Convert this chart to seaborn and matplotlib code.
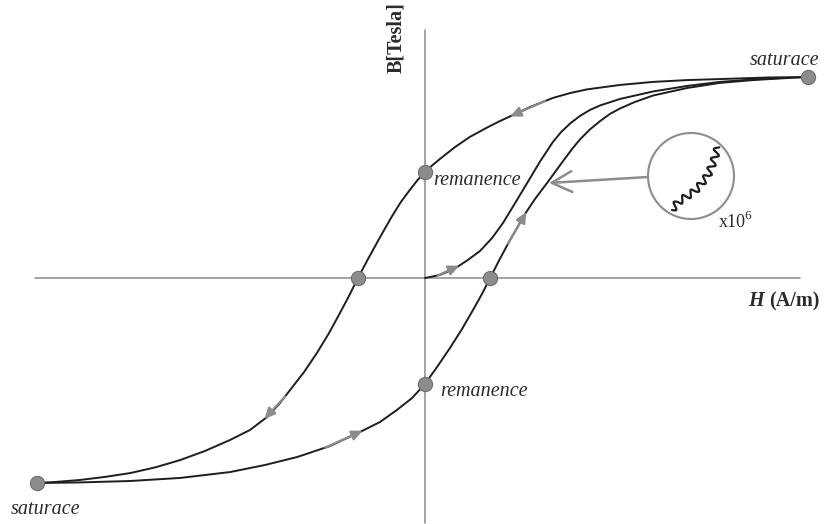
import numpy as np
import pandas as pd
import matplotlib
matplotlib.use("Agg")
import matplotlib.pyplot as plt
import matplotlib.transforms as mtransforms
from matplotlib.patches import Circle
import seaborn as sns

# Major loop, descending branch (from +saturation down to -saturation)
H_down = [0.982, 0.885, 0.756, 0.672, 0.585, 0.500, 0.415, 0.372, 0.328, 0.269,
          0.226, 0.192, 0.159, 0.115, 0.077, 0.038, 0.018, 0.0, -0.018, -0.038,
          -0.062, -0.085, -0.115, -0.144, -0.172, -0.195, -0.218, -0.246, -0.277,
          -0.310, -0.346, -0.374, -0.405, -0.449, -0.500, -0.564, -0.628, -0.692,
          -0.756, -0.821, -0.885, -0.949, -0.995]
B_down = [0.990, 0.988, 0.980, 0.975, 0.966, 0.951, 0.929, 0.911, 0.887, 0.842,
          0.803, 0.773, 0.741, 0.695, 0.645, 0.586, 0.554, 0.522, 0.485, 0.436,
          0.374, 0.303, 0.202, 0.101, 0.0, -0.089, -0.172, -0.271, -0.369,
          -0.463, -0.552, -0.621, -0.685, -0.749, -0.798, -0.852, -0.897, -0.933,
          -0.961, -0.980, -0.995, -1.005, -1.010]

# Major loop, ascending branch (from -saturation up to +saturation)
H_up = [-0.995, -0.885, -0.756, -0.628, -0.500, -0.410, -0.328, -0.244, -0.167,
        -0.115, -0.072, -0.033, 0.0, 0.031, 0.064, 0.095, 0.123, 0.146, 0.167,
        0.192, 0.218, 0.236, 0.251, 0.282, 0.313, 0.354, 0.377, 0.397, 0.423,
        0.449, 0.474, 0.500, 0.538, 0.585, 0.672, 0.756, 0.841, 0.910, 0.982]
B_up = [-1.010, -1.007, -1.000, -0.985, -0.956, -0.921, -0.882, -0.828, -0.759,
        -0.709, -0.650, -0.591, -0.522, -0.438, -0.345, -0.251, -0.158, -0.079, 0.0,
        0.094, 0.187, 0.246, 0.300, 0.389, 0.468, 0.576, 0.635, 0.682, 0.732,
        0.773, 0.808, 0.835, 0.867, 0.899, 0.936, 0.961, 0.975, 0.983, 0.990]

# Initial magnetisation curve from the demagnetised state
H_init = [0.0, 0.038, 0.077, 0.110, 0.141, 0.172, 0.200, 0.231, 0.262, 0.295,
          0.328, 0.349, 0.372, 0.397, 0.423, 0.449, 0.500, 0.585, 0.672, 0.756,
          0.841, 0.910]
B_init = [0.0, 0.015, 0.047, 0.089, 0.133, 0.197, 0.271, 0.369, 0.468, 0.574,
          0.670, 0.719, 0.761, 0.798, 0.828, 0.850, 0.882, 0.919, 0.946, 0.966,
          0.978, 0.985]

# Characteristic points
H_sat = [0.982, -0.995]
B_sat = [0.990, -1.010]
B_rem = [0.522, -0.522]
H_coer = [-0.172, 0.167]

W, Hpx = 825, 524
X0, Y0 = 425, 278          # origin position in pixels
PX_H, PX_B = 390.0, 203.0  # pixels per unit of H and B

sns.set_theme(style="white")
plt.rcParams["font.family"] = ["Liberation Serif", "DejaVu Serif"]

fig = plt.figure(figsize=(W / 100, Hpx / 100), dpi=100)
ax = fig.add_axes([0, 0, 1, 1])
ax.axis("off")

# pixel-space transform (origin top-left) for layout elements
px = mtransforms.Affine2D().scale(1 / W, -1 / Hpx).translate(0, 1) + fig.transFigure

axis_col = "#8a8a8a"
curve_col = "#1e1e1e"
accent = "#8c8c8c"

# coordinate axes
ax.axhline(0, xmin=35 / W, xmax=800 / W, color=axis_col, lw=1.1, zorder=1)
ax.axvline(0, ymin=1 / Hpx, ymax=(Hpx - 30) / Hpx, color=axis_col, lw=1.1, zorder=1)

df = pd.concat([
    pd.DataFrame({"H": H_down, "B": B_down, "branch": "down"}),
    pd.DataFrame({"H": H_up, "B": B_up, "branch": "up"}),
    pd.DataFrame({"H": H_init, "B": B_init, "branch": "initial"}),
], ignore_index=True)

sns.lineplot(data=df, x="H", y="B", units="branch", estimator=None, sort=False,
             color=curve_col, lw=1.4, ax=ax, zorder=3)
for ln in ax.lines[2:]:
    ln.set_solid_joinstyle("round")

# direction arrows along the branches
def on_branch(hs, bs, h):
    hs = np.asarray(hs); bs = np.asarray(bs)
    order = np.argsort(hs)
    return float(np.interp(h, hs[order], bs[order]))

arrows = [
    (H_down, B_down, 0.308, 0.218),
    (H_down, B_down, -0.359, -0.412),
    (H_up, B_up, -0.256, -0.160),
    (H_up, B_up, 0.213, 0.260),
    (H_init, B_init, 0.033, 0.088),
]
for hs, bs, h0, h1 in arrows:
    ax.annotate("", xy=(h1, on_branch(hs, bs, h1)), xytext=(h0, on_branch(hs, bs, h0)),
                arrowprops=dict(arrowstyle="-|>,head_length=0.65,head_width=0.3",
                                color=accent, lw=1.6, mutation_scale=10,
                                shrinkA=0, shrinkB=0), zorder=4)

# saturation, remanence and coercivity markers
pts_h = H_sat + [0.0, 0.0] + H_coer
pts_b = B_sat + B_rem + [0.0, 0.0]
sns.scatterplot(x=pts_h, y=pts_b, s=105, color="#8c8c8c", edgecolor="#6e6e6e",
                linewidth=0.8, ax=ax, zorder=5, legend=False)

ax.set_xlim(-X0 / PX_H, (W - X0) / PX_H)
ax.set_ylim(-(Hpx - Y0) / PX_B, Y0 / PX_B)

# magnifier showing the Barkhausen steps
ax.add_patch(Circle((691, 176), 43, transform=px, fill=False, ec=accent, lw=1.5, zorder=4))
base = np.array([(672, 210), (678, 202), (686, 197), (695, 191), (702, 183),
                 (708, 175), (713, 163), (718, 147)], dtype=float)
seg = np.hypot(*np.diff(base, axis=0).T)
cum = np.concatenate([[0], np.cumsum(seg)])
s = np.linspace(0, cum[-1], 600)
bx = np.interp(s, cum, base[:, 0]); by = np.interp(s, cum, base[:, 1])
tx = np.gradient(bx); ty = np.gradient(by)
nrm = np.hypot(tx, ty)
nx, ny = -ty / nrm, tx / nrm
wig = 3.4 * np.sin(2 * np.pi * s / 10.0)
ax.plot(bx + wig * nx, by + wig * ny, transform=px, color=curve_col, lw=1.6, zorder=5)

ax.annotate("", xy=(0.318, 0.468), xycoords="data", xytext=(648, 177), textcoords=px,
            arrowprops=dict(arrowstyle="->,head_length=1.45,head_width=0.75",
                            color=accent, lw=1.8, mutation_scale=10,
                            shrinkA=0, shrinkB=0), zorder=4)

# labels
txt_col = "#2b2b2b"
fs = 14.5
ax.text(750, 65, "saturace", transform=px, fontsize=fs, style="italic", color=txt_col,
        ha="left", va="baseline")
ax.text(11, 514, "saturace", transform=px, fontsize=fs, style="italic", color=txt_col,
        ha="left", va="baseline")
ax.text(433, 185, "remanence", transform=px, fontsize=fs, style="italic", color=txt_col,
        ha="left", va="baseline")
ax.text(440, 396, "remanence", transform=px, fontsize=fs, style="italic", color=txt_col,
        ha="left", va="baseline")
ax.text(719, 227, "x10", transform=px, fontsize=13, color=txt_col, ha="left", va="baseline")
ax.text(744.5, 219, "6", transform=px, fontsize=9.5, color=txt_col, ha="left", va="baseline")
ax.text(764, 306, "H", transform=px, fontsize=fs, style="italic", weight="bold",
        color=txt_col, ha="right", va="baseline")
ax.text(819, 306, "(A/m)", transform=px, fontsize=fs, weight="bold", color=txt_col,
        ha="right", va="baseline")
ax.text(396, 2, "B[Tesla]", transform=px, fontsize=fs, weight="bold", color=txt_col,
        rotation=90, ha="center", va="top")

fig.savefig("out.png", dpi=100, facecolor="white")
